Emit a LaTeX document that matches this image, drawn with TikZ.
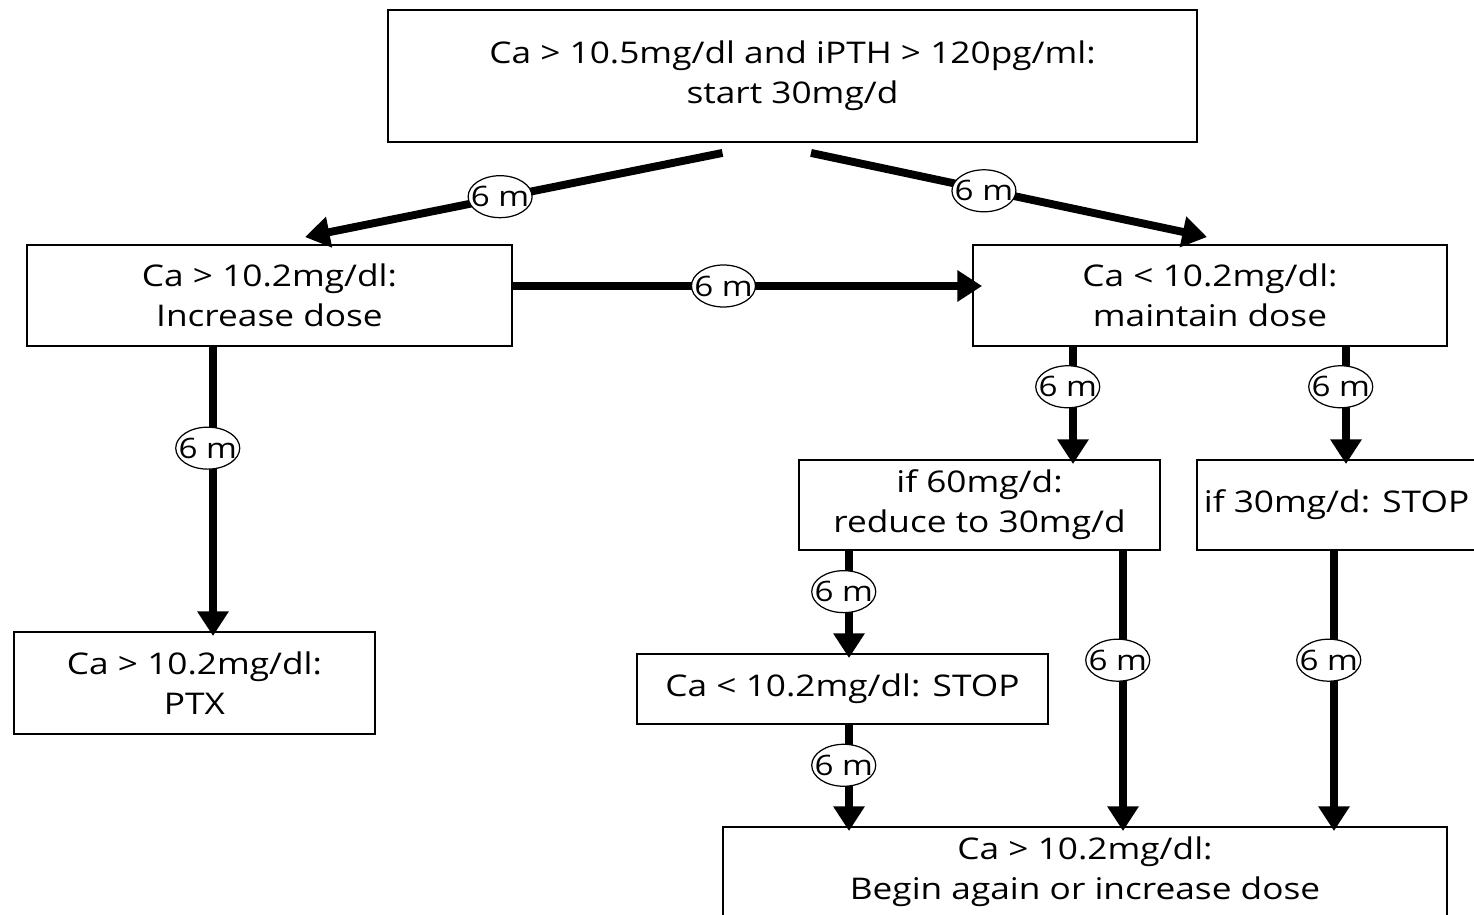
\documentclass[tikz,border=0pt]{standalone}
\usepackage{fontspec}
\setmainfont{Open Sans}[FakeStretch=1.18]
\usepackage{tikz}
\usetikzlibrary{arrows.meta,positioning,calc,shapes.geometric}

\tikzset{
    box/.style={draw, line width=1.1pt, align=center, inner sep=0pt,
        font=\fontsize{17}{22.7}\selectfont},
    arr/.style={line width=4.5pt, -{Triangle[length=14pt,width=17pt]}},
    mo/.style={ellipse, draw, line width=0.7pt, fill=white,
        inner xsep=-6pt, inner ysep=1pt,
        minimum width=1.28cm, minimum height=0.84cm, xshift=-3pt,
        font=\fontsize{16}{18}\selectfont}
}

\begin{document}
\begin{tikzpicture}[x=0.02cm, y=-0.02cm]
    \path[use as bounding box] (0,0) rectangle (1474,915);

    % Boxes
    \node[box, minimum width=16.18cm, minimum height=2.64cm] (start) at (792.5,76)
        {Ca > 10.5mg/dl and iPTH > 120pg/ml:\\ start 30mg/d};
    \node[box, minimum width=9.7cm, minimum height=2.02cm] (incr) at (269.5,295.5)
        {Ca > 10.2mg/dl:\\ Increase dose};
    \node[box, minimum width=9.48cm, minimum height=2.02cm] (maint) at (1210,295.5)
        {Ca < 10.2mg/dl:\\ maintain dose};
    \node[box, minimum width=7.22cm, minimum height=2.04cm] (ptx) at (194.5,683)
        {Ca > 10.2mg/dl:\\ PTX};
    \node[box, minimum width=7.22cm, minimum height=1.8cm] (reduce) at (979.5,505)
        {if 60mg/d:\\ reduce to 30mg/d};
    \node[box, minimum width=5.58cm, minimum height=1.8cm] (stop30) at (1336.5,505)
        {if 30mg/d: STOP};
    \node[box, minimum width=8.22cm, minimum height=1.4cm] (stopca) at (842.5,689)
        {Ca < 10.2mg/dl: STOP};
    \node[box, minimum width=14.48cm, minimum height=1.8cm] (again) at (1085,872)
        {Ca > 10.2mg/dl:\\ Begin again or increase dose};

    % Arrows
    \draw[arr] ($(start.south)+(-70,10)$) -- node[mo, pos=0.52] {6 m} ($(incr.north)+(35.5,-7)$);
    \draw[arr] ($(start.south)+(18.5,10)$) -- node[mo, pos=0.45] {6 m} ($(maint.north)+(-3,-7)$);
    \draw[arr] ($(incr.east)+(0,-9.5)$) -- node[mo, pos=0.46] {6 m} ($(maint.west)+(10,-9.5)$);
    \draw[arr] (incr.south -| 213,0) -- node[mo, pos=0.35] {6 m} ($(ptx.north -| 213,0)+(0,5)$);
    \draw[arr] (maint.south -| 1073,0) -- node[mo, pos=0.34] {6 m} ($(reduce.north -| 1073,0)+(0,5)$);
    \draw[arr] (maint.south -| 1346,0) -- node[mo, pos=0.34] {6 m} ($(stop30.north -| 1346,0)+(0,5)$);
    \draw[arr] (reduce.south -| 849,0) -- node[mo, pos=0.38] {6 m} ($(stopca.north -| 849,0)+(0,5)$);
    \draw[arr] (stopca.south -| 849,0) -- node[mo, pos=0.38] {6 m} ($(again.north -| 849,0)+(0,5)$);
    \draw[arr] (reduce.south -| 1123,0) -- node[mo, pos=0.39] {6 m} ($(again.north -| 1123,0)+(0,5)$);
    \draw[arr] (stop30.south -| 1334,0) -- node[mo, pos=0.39] {6 m} ($(again.north -| 1334,0)+(0,5)$);
\end{tikzpicture}
\end{document}
